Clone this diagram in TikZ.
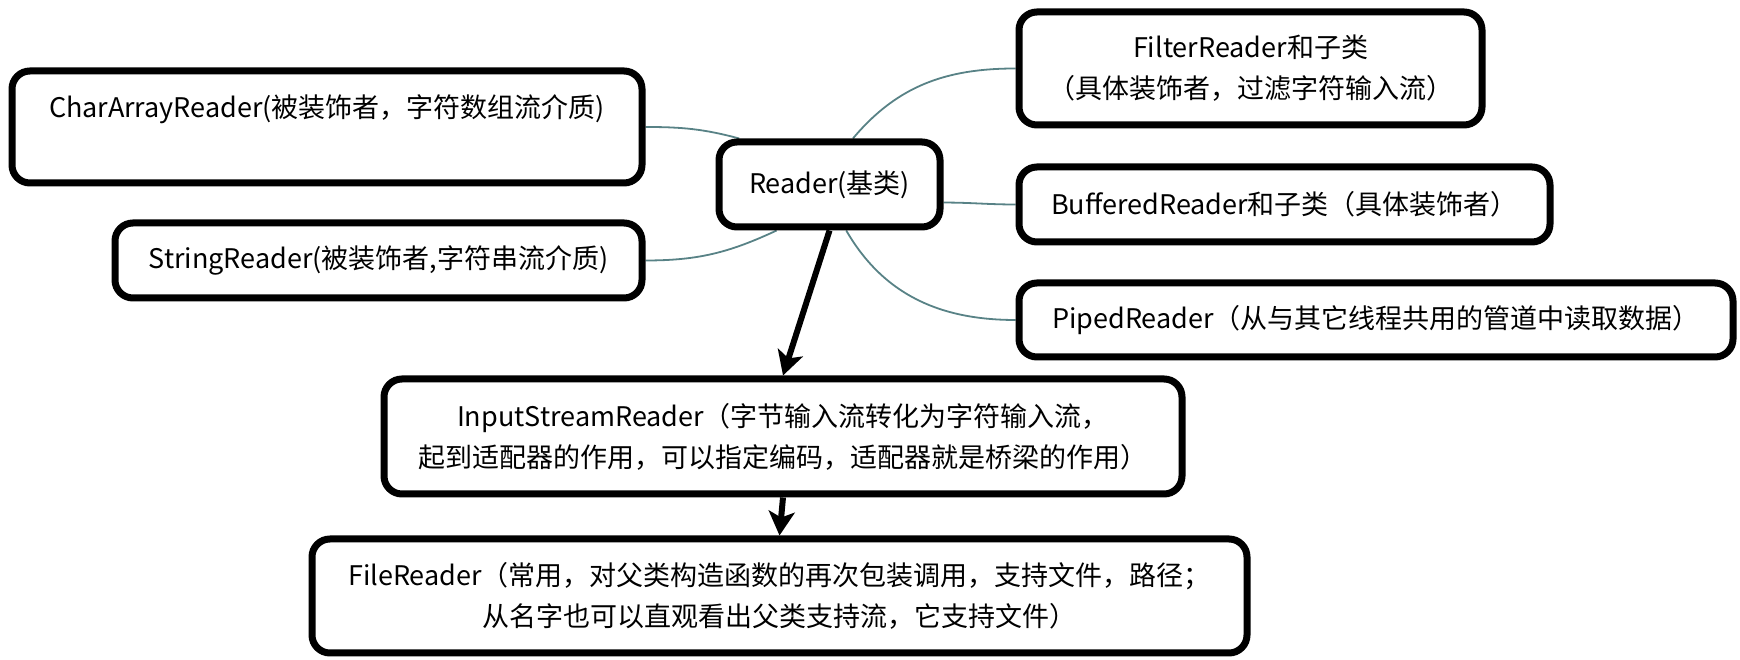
\documentclass[tikz,border=0pt]{standalone}
\usepackage{fontspec}
\setmainfont{Noto Sans CJK SC}
\usetikzlibrary{arrows.meta,backgrounds}
\definecolor{linkgray}{RGB}{88,130,134}
\begin{document}
\begin{tikzpicture}[x=1pt, y=1pt,
  box/.style={draw=black, line width=7pt, rounded corners=18pt, fill=white, align=center, inner sep=0pt, font=\fontsize{27}{41}\selectfont},
  link/.style={draw=linkgray, line width=1.8pt},
  flow/.style={draw=black, line width=6pt, -{Stealth[length=24pt,width=26pt,inset=6pt]}}]
\useasboundingbox (0,0) rectangle (1740,660);
% Draw base class in the middle
\node[box, minimum width=221pt, minimum height=85pt] (reader) at (829.5,475.5) {Reader(基类)};
% Draw media readers on the left
\node[box, minimum width=630pt, minimum height=112pt] (chararray) at (327,533) {CharArrayReader(被装饰者，字符数组流介质)\\~};
\node[box, minimum width=527pt, minimum height=75pt] (string) at (378.5,399.5) {StringReader(被装饰者,字符串流介质)};
% Draw decorators on the right
\node[box, minimum width=463pt, minimum height=113pt] (filter) at (1250.5,591.5) {FilterReader和子类\\（具体装饰者，过滤字符输入流）};
\node[box, minimum width=531pt, minimum height=75pt] (buffered) at (1284.5,455.5) {BufferedReader和子类（具体装饰者）};
\node[box, minimum width=714pt, minimum height=74pt] (piped) at (1376,340) {PipedReader（从与其它线程共用的管道中读取数据）};
% Draw adapter chain below
\node[box, minimum width=798pt, minimum height=115pt] (adapter) at (783,223.5) {InputStreamReader（字节输入流转化为字符输入流，\\起到适配器的作用，可以指定编码，适配器就是桥梁的作用）};
\node[box, minimum width=935pt, minimum height=114pt] (file) at (779.5,64) {FileReader（常用，对父类构造函数的再次包装调用，支持文件，路径；\\从名字也可以直观看出父类支持流，它支持文件）};
% Draw thin links behind the boxes
\begin{scope}[on background layer]
\draw[link] (chararray.east) to[out=0, in=165] (reader.153);
\draw[link] (string.east) to[out=0, in=205] (reader.221);
\draw[link] (reader.63) to[out=50, in=180] (filter.west);
\draw[link] (reader.-9) to[out=0, in=180] (buffered.west);
\draw[link] (reader.-70) to[out=-60, in=180] (piped.west);
\end{scope}
% Draw thick arrows down the chain
\draw[flow] (reader.south) -- (adapter.north);
\draw[flow] (adapter.south) -- (file.north);
\end{tikzpicture}
\end{document}
